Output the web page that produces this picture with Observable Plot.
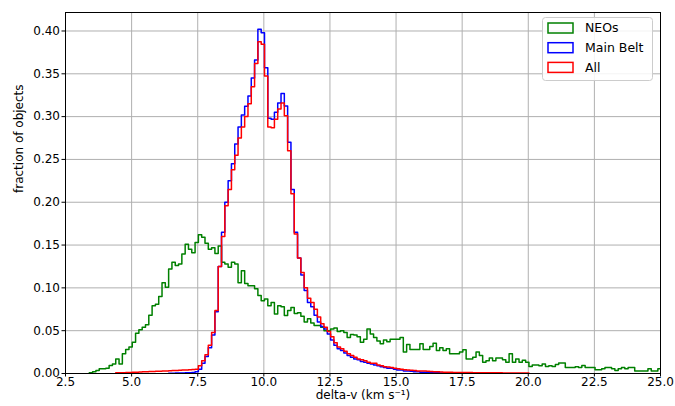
<!DOCTYPE html>
<html>
<head>
<meta charset="utf-8">
<script src="https://cdn.jsdelivr.net/npm/d3@7"></script>
<script src="https://cdn.jsdelivr.net/npm/@observablehq/plot@0.6"></script>
<style>
  html, body { margin: 0; padding: 0; background: #fff; }
  #chart { width: 675px; height: 406px; }
</style>
</head>
<body>
<div id="chart"></div>
<script>
// ---- data (histogram bin heights, fraction of objects) ----
const binWidth = 0.125;
const neoStart = 3.4;
const mainBeltStart = 6.4;
const allStart = 4.4;

const neoValues = [
  0.001, 0.002, 0.0035, 0.0055, 0.0055, 0.006, 0.0093, 0.011, 0.017, 0.011,
  0.023, 0.028, 0.031, 0.0365, 0.047, 0.051, 0.054, 0.057, 0.068, 0.079,
  0.081, 0.090, 0.106, 0.1006, 0.122, 0.130, 0.126, 0.128, 0.1396, 0.151,
  0.145, 0.141, 0.153, 0.162, 0.159, 0.152, 0.145, 0.147, 0.140, 0.149,
  0.130, 0.128, 0.124, 0.130, 0.128, 0.106, 0.120, 0.105, 0.1026, 0.1026,
  0.099, 0.091, 0.085, 0.087, 0.079, 0.083, 0.0696, 0.079, 0.078, 0.0676,
  0.0735, 0.077, 0.070, 0.071, 0.067, 0.060, 0.064, 0.059, 0.056, 0.056,
  0.054, 0.050, 0.050, 0.052, 0.053, 0.049, 0.050, 0.048, 0.042, 0.0455,
  0.045, 0.043, 0.0365, 0.040, 0.052, 0.046, 0.042, 0.038, 0.0346, 0.039,
  0.037, 0.040, 0.040, 0.040, 0.042, 0.025, 0.0338, 0.028, 0.028, 0.028,
  0.0346, 0.028, 0.028, 0.0315, 0.0353, 0.027, 0.030, 0.027, 0.029, 0.023,
  0.023, 0.023, 0.025, 0.0276, 0.017, 0.017, 0.019, 0.025, 0.021, 0.0132,
  0.015, 0.018, 0.015, 0.018, 0.018, 0.016, 0.0132, 0.023, 0.0132, 0.017,
  0.0132, 0.0155, 0.0132, 0.0082, 0.010, 0.010, 0.009, 0.011, 0.0082, 0.009,
  0.0082, 0.0105, 0.0124, 0.0124, 0.007, 0.007, 0.007, 0.0078, 0.007, 0.0093,
  0.007, 0.007, 0.007, 0.0043, 0.0043, 0.0055, 0.007, 0.007, 0.0055, 0.0035,
  0.0055, 0.007, 0.0055, 0.007, 0.007, 0.003, 0.003, 0.003, 0.003, 0.0055,
  0.003, 0.003, 0.0055
];

const mainBeltValues = [
  0.0003, 0.0004, 0.0005, 0.0006, 0.0007, 0.0008, 0.001, 0.0013,
  0.002, 0.005, 0.012, 0.020, 0.030, 0.045, 0.072, 0.125,
  0.165, 0.200, 0.225, 0.245, 0.268, 0.288, 0.302, 0.312,
  0.324, 0.345, 0.366, 0.402, 0.398, 0.357,
  0.298, 0.297, 0.305, 0.316, 0.327, 0.3125,
  0.270, 0.215, 0.165, 0.135, 0.115, 0.097,
  0.083, 0.078, 0.068, 0.060, 0.055, 0.052, 0.046,
  0.039, 0.033, 0.029, 0.027, 0.024, 0.021, 0.019,
  0.017, 0.016, 0.014, 0.013, 0.012, 0.011, 0.010,
  0.009, 0.008, 0.007, 0.006, 0.006, 0.005, 0.004,
  0.004, 0.003, 0.003, 0.0025, 0.002, 0.002, 0.0015,
  0.0015, 0.001, 0.001, 0.001, 0.0008, 0.0007, 0.0006, 0.0005,
  0.0004, 0.0004, 0.0003, 0.0003, 0.0002, 0.0002
];

const allValues = [
  0.0008, 0.001, 0.001, 0.0012, 0.0013, 0.0015, 0.0016, 0.0018,
  0.002, 0.002, 0.0022, 0.0024, 0.0025, 0.0027, 0.0028, 0.003,
  0.0032, 0.0034, 0.0036, 0.0038, 0.004, 0.0042, 0.0045, 0.0048,
  0.005, 0.009, 0.015, 0.022, 0.033, 0.048, 0.0735, 0.125,
  0.160, 0.196, 0.215, 0.238, 0.255, 0.275, 0.288, 0.300,
  0.315, 0.335, 0.362, 0.3875, 0.3845, 0.3475,
  0.288, 0.287, 0.297, 0.309, 0.316, 0.301,
  0.260, 0.210, 0.163, 0.135, 0.118, 0.100,
  0.088, 0.083, 0.075, 0.066, 0.058, 0.054, 0.049,
  0.043, 0.036, 0.031, 0.029, 0.026, 0.023, 0.021,
  0.019, 0.017, 0.016, 0.015, 0.013, 0.012, 0.012,
  0.010, 0.009, 0.008, 0.0075, 0.007, 0.006, 0.0055,
  0.005, 0.0045, 0.004, 0.0038, 0.0035, 0.003, 0.003,
  0.0028, 0.0025, 0.0022, 0.002, 0.002, 0.0018, 0.0016, 0.0015,
  0.0014, 0.0013, 0.0013, 0.0012, 0.0012, 0.0011, 0.0011, 0.001,
  0.001, 0.001, 0.0009, 0.0009, 0.0009, 0.0008, 0.0008, 0.0008,
  0.0007, 0.0007, 0.0006, 0.0006, 0.0006, 0.0005, 0.0005, 0.0005
];

const seriesNames = ["NEOs", "Main Belt", "All"];
const seriesColors = ["#008000", "#0000ff", "#ff0000"];
const xTicks = [2.5, 5.0, 7.5, 10.0, 12.5, 15.0, 17.5, 20.0, 22.5, 25.0];
const yTicks = [0.00, 0.05, 0.10, 0.15, 0.20, 0.25, 0.30, 0.35, 0.40];
const xLabel = "delta-v (km s\u207B\u00B9)";
const yLabel = "fraction of objects";

// ---- build step outlines ----
function stepPoints(start, values, series) {
  const pts = [{x: start, y: 0, series}];
  values.forEach((v, i) => pts.push({x: start + i * binWidth, y: v, series}));
  pts.push({x: start + values.length * binWidth, y: 0, series});
  return pts;
}
const neoPts = stepPoints(neoStart, neoValues, seriesNames[0]);
const mainPts = stepPoints(mainBeltStart, mainBeltValues, seriesNames[1]);
const allPts = stepPoints(allStart, allValues, seriesNames[2]);

const font = "'DejaVu Sans', sans-serif";

const chart = Plot.plot({
  width: 675,
  height: 406,
  marginLeft: 65,
  marginRight: 15,
  marginTop: 12,
  marginBottom: 33,
  style: {fontFamily: font, fontSize: "12px", color: "#000", background: "#fff"},
  x: {domain: [2.5, 25], label: null},
  y: {domain: [0, 0.4216], label: null},
  marks: [
    Plot.gridX(xTicks, {stroke: "#b0b0b0", strokeOpacity: 1, strokeWidth: 1}),
    Plot.gridY(yTicks, {stroke: "#b0b0b0", strokeOpacity: 1, strokeWidth: 1}),
    Plot.line(neoPts, {x: "x", y: "y", curve: "step-after", stroke: seriesColors[0], strokeWidth: 1.5, clip: true}),
    Plot.line(mainPts, {x: "x", y: "y", curve: "step-after", stroke: seriesColors[1], strokeWidth: 1.5, clip: true}),
    Plot.line(allPts, {x: "x", y: "y", curve: "step-after", stroke: seriesColors[2], strokeWidth: 1.5, clip: true}),
    Plot.frame({stroke: "#000", strokeWidth: 1}),
    Plot.axisX(xTicks, {tickSize: 3.5, tickPadding: 0, tickFormat: d => d.toFixed(1), label: null, fontSize: 12}),
    Plot.axisY(yTicks, {tickSize: 3.5, tickPadding: 2, tickFormat: d => d.toFixed(2), label: null, fontSize: 12}),
    Plot.text([xLabel], {frameAnchor: "bottom", dy: 25, text: d => d, fontSize: 12}),
    Plot.text([yLabel], {frameAnchor: "left", dx: -46, rotate: -90, text: d => d, fontSize: 12})
  ]
});

document.getElementById("chart").appendChild(chart);

// ---- legend (drawn into the plot's svg) ----
const svg = d3.select(chart);
const lg = svg.append("g")
  .attr("font-family", font)
  .attr("font-size", 12.5)
  .attr("text-anchor", "start");
lg.append("rect")
  .attr("x", 542.5).attr("y", 17.5).attr("width", 110).attr("height", 63)
  .attr("rx", 3).attr("fill", "#fff").attr("fill-opacity", 0.85)
  .attr("stroke", "#cccccc").attr("stroke-width", 1);
seriesNames.forEach((name, i) => {
  const cy = 28 + i * 19.7;
  lg.append("rect")
    .attr("x", 548).attr("y", cy - 5).attr("width", 25).attr("height", 10)
    .attr("fill", "none").attr("stroke", seriesColors[i]).attr("stroke-width", 1.5);
  lg.append("text")
    .attr("x", 585).attr("y", cy).attr("dy", "0.35em")
    .attr("text-anchor", "start")
    .attr("fill", "#000").text(name);
});
</script>
</body>
</html>
